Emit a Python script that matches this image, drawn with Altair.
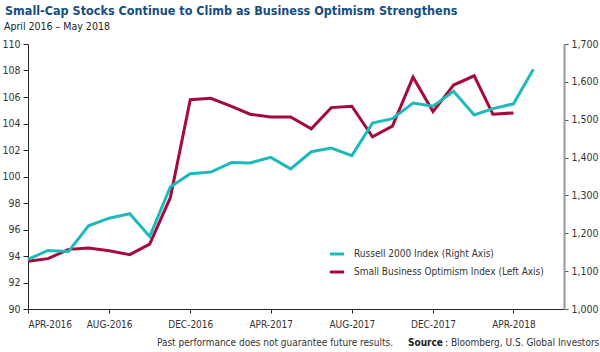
import altair as alt
import pandas as pd

months = [d.strftime("%Y-%m-%d") for d in pd.date_range("2016-04-01", "2018-05-01", freq="MS")]
russell = [1130.8, 1154.8, 1151.9, 1219.9, 1239.9, 1251.6, 1191.4, 1322.3, 1357.1, 1361.8,
           1386.7, 1385.9, 1400.4, 1370.2, 1415.4, 1425.1, 1405.3, 1490.9, 1502.8, 1544.1,
           1535.5, 1575.0, 1512.5, 1529.4, 1541.9, 1633.6]
optimism = [93.6, 93.8, 94.5, 94.6, 94.4, 94.1, 94.9, 98.4, 105.8, 105.9, 105.3, 104.7,
            104.5, 104.5, 103.6, 105.2, 105.3, 103.0, 103.8, 107.5, 104.9, 106.9, 107.6,
            104.7, 104.8]
series_names = ["Russell 2000 Index (Right Axis)", "Small Business Optimism Index (Left Axis)"]
colors = ["#1ebabb", "#a60a3d"]
x_ticks = ["2016-04-01", "2016-08-01", "2016-12-01", "2017-04-01", "2017-08-01", "2017-12-01", "2018-04-01"]

df_r = pd.DataFrame({"date": months, "value": russell, "series": series_names[0]})
df_o = pd.DataFrame({"date": months[:len(optimism)], "value": optimism, "series": series_names[1]})

FONT = "DejaVu Sans Condensed, Roboto, sans-serif"
xdom = [alt.DateTime(year=2016, month=4, date=1), alt.DateTime(year=2018, month=6, date=16)]
xenc = alt.X("date:T", scale=alt.Scale(domain=xdom),
             axis=alt.Axis(values=[alt.DateTime(year=int(v[:4]), month=int(v[5:7]), date=1) for v in x_ticks],
                           labelExpr="upper(timeFormat(datum.value, '%b-%Y'))",
                           title=None, grid=False, tickSize=4, labelPadding=6,
                           domainColor="#222", tickColor="#222", labelColor="#333",
                           labelFontSize=10, labelFont=FONT))
color = alt.Color("series:N", scale=alt.Scale(domain=series_names, range=colors),
                  legend=alt.Legend(title=None, orient="none", legendX=300, legendY=201,
                                    symbolType="stroke", symbolStrokeWidth=3, symbolSize=200,
                                    labelFontSize=10, labelFont=FONT, labelColor="#333",
                                    labelLimit=400, rowPadding=3, labelOffset=8))

opt_line = alt.Chart(df_o).mark_line(strokeWidth=3).encode(
    x=xenc,
    y=alt.Y("value:Q", scale=alt.Scale(domain=[90, 110], nice=False),
            axis=alt.Axis(orient="left", values=list(range(90, 111, 2)), title=None, grid=False,
                          tickSize=5, labelPadding=3, domainColor="#222", tickColor="#222",
                          labelColor="#333", labelFontSize=10.5, labelFont=FONT)),
    color=color,
)
rus_line = alt.Chart(df_r).mark_line(strokeWidth=3).encode(
    x=xenc,
    y=alt.Y("value:Q", scale=alt.Scale(domain=[1000, 1700], nice=False),
            axis=alt.Axis(orient="right", values=list(range(1000, 1701, 100)), format=",.0f",
                          title=None, grid=False, tickSize=4, labelPadding=3,
                          domainColor="#999", domainWidth=2, tickColor="#555",
                          labelColor="#333", labelFontSize=10.5, labelFont=FONT)),
    color=color,
)

texts = pd.DataFrame({"t": [0]})
def txt(text, x, y, size, weight="normal", color="#222", align="left", font=FONT):
    return alt.Chart(texts).mark_text(text=text, align=align, baseline="middle", fontSize=size,
                                      fontWeight=weight, color=color, font=font).encode(
        x=alt.value(x), y=alt.value(y))

title = txt("Small-Cap Stocks Continue to Climb as Business Optimism Strengthens", 5 - 28, 11 - 44, 12.5, "bold", "#154d80")
subtitle = txt("April 2016 \u2013 May 2018", 4 - 28, 27 - 44, 10.5, color="#222")
footer = txt("Past performance does not guarantee future results.", 275 - 28, 343 - 44, 10, align="center", color="#333")
src_b = txt("Source", 408 - 28, 343 - 44, 10, "bold", "#222")
src_r = txt(": Bloomberg, U.S. Global Investors", 445 - 28, 343 - 44, 10, color="#333")

chart = alt.layer(opt_line, rus_line, title, subtitle, footer, src_b, src_r).resolve_scale(
    y="independent"
).properties(
    width=536, height=265,
    autosize=alt.AutoSizeParams(type="none"),
    padding={"left": 28, "top": 44, "right": 36, "bottom": 43},
    background="white",
).configure_view(stroke=None)

chart.save("out.html", embed_options={"renderer": "svg", "actions": False})
